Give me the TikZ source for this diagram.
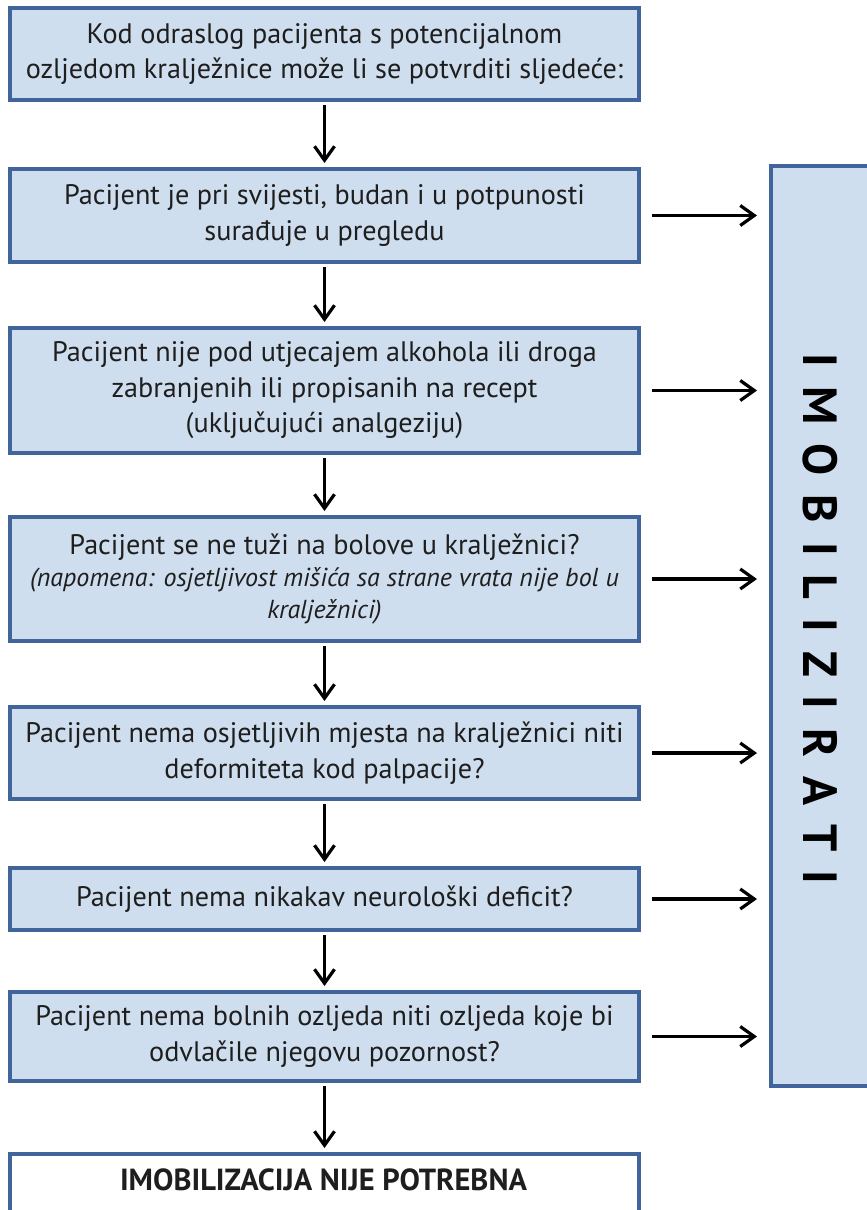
\documentclass[tikz,border=0pt]{standalone}
\usepackage{fontspec}
\setmainfont{PT Sans}
\usetikzlibrary{arrows.meta}
\definecolor{bordc}{HTML}{41659A}
\definecolor{fillc}{HTML}{CFDEEE}
\definecolor{txtc}{HTML}{1E1E1E}
\newcommand\lsp{\hspace{19pt}}
\tikzset{
  box/.style={draw=bordc, line width=4pt, fill=fillc, minimum width=629pt, inner sep=0pt,
    align=center, text=txtc, font=\fontsize{28.2}{35.5}\selectfont},
  conn/.style={line width=3.2pt, -{Straight Barb[length=14pt,width=20pt]}},
}
\begin{document}
\begin{tikzpicture}[x=1pt,y=-1pt]
\useasboundingbox (0,0) rectangle (867,1210);
\clip (0,0) rectangle (867,1210);
\node[box, minimum height=92pt] (b1) at (324.5,54) {Kod odraslog pacijenta s potencijalnom\\ozljedom kralježnice može li se potvrditi sljedeće:};
\node[box, minimum height=93pt] (b2) at (324.5,215.5) {Pacijent je pri svijesti, budan i u potpunosti\\surađuje u pregledu};
\node[box, minimum height=125pt] (b3) at (324.5,390.5) {Pacijent nije pod utjecajem alkohola ili droga\\zabranjenih ili propisanih na recept\\(uključujući analgeziju)};
\node[box, minimum height=124pt, font=\fontsize{28.2}{32}\selectfont] (b4) at (324.5,579) {Pacijent se ne tuži na bolove u kralježnici?\\\fontsize{26}{32}\selectfont\itshape (napomena: osjetljivost mišića sa strane vrata nije bol u\\\fontsize{26}{32}\selectfont\itshape kralježnici)};
\node[box, minimum height=92pt] (b5) at (324.5,753) {Pacijent nema osjetljivih mjesta na kralježnici niti\\deformiteta kod palpacije?};
\node[box, minimum height=62pt] (b6) at (324.5,899) {Pacijent nema nikakav neurološki deficit?};
\node[box, minimum height=89pt] (b7) at (324.5,1036.5) {Pacijent nema bolnih ozljeda niti ozljeda koje bi\\odvlačile njegovu pozornost?};
\node[box, minimum height=84pt, fill=white] (b8) at (324.5,1196) {};
\node[text=txtc, font=\fontsize{30.5}{32}\selectfont\bfseries, inner sep=0pt] (b8t) at (323.5,1180) {IMOBILIZACIJA NIJE POTREBNA};
\node[box, minimum width=127pt, minimum height=920pt] (r) at (834.5,626) {};
\node[text=black, font=\fontsize{48}{50}\selectfont\bfseries, rotate=-90, inner sep=0pt] (rt) at (820,619)
  {I\lsp M\lsp O\lsp B\lsp I\lsp L\lsp I\lsp Z\lsp I\lsp R\lsp A\lsp T\lsp I};
\foreach \a/\b in {b1/b2,b2/b3,b3/b4,b4/b5,b5/b6,b6/b7,b7/b8}
  \draw[conn] ([yshift=-3pt]\a.south) -- ([yshift=4pt]\b.north);
\foreach \a in {b2,b3,b4,b5,b6,b7}
  \draw[conn] ([xshift=11pt]\a.east) -- ([xshift=-12pt]\a.east -| r.west);
\end{tikzpicture}
\end{document}
